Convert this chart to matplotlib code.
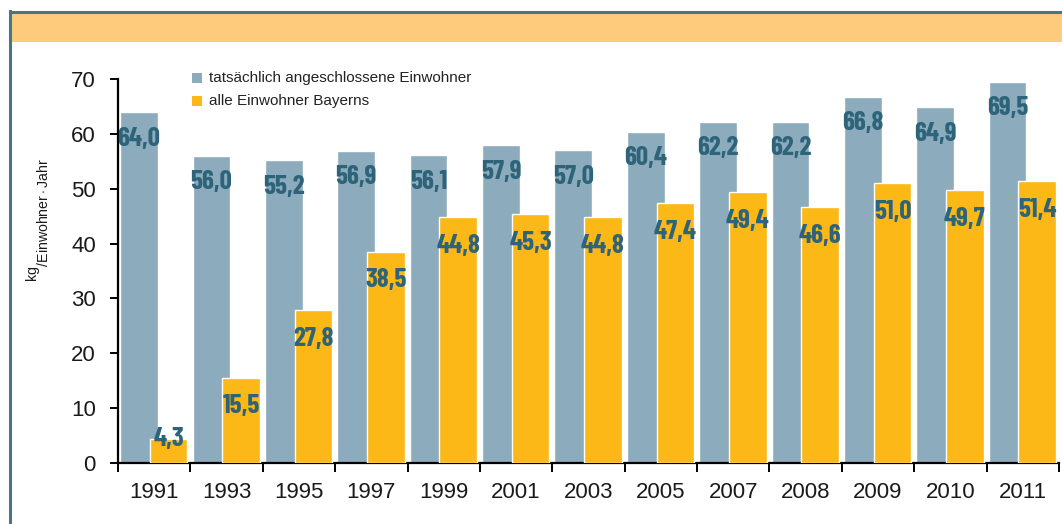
import matplotlib
matplotlib.use("Agg")
import matplotlib.pyplot as plt
from matplotlib.patches import Rectangle
from matplotlib.lines import Line2D
from matplotlib import font_manager as fm

years = ["1991", "1993", "1995", "1997", "1999", "2001", "2003", "2005",
         "2007", "2008", "2009", "2010", "2011"]
connected = [64.0, 56.0, 55.2, 56.9, 56.1, 57.9, 57.0, 60.4, 62.2, 62.2, 66.8, 64.9, 69.5]
all_bavaria = [4.3, 15.5, 27.8, 38.5, 44.8, 45.3, 44.8, 47.4, 49.4, 46.6, 51.0, 49.7, 51.4]
legend_labels = ["tatsächlich angeschlossene Einwohner", "alle Einwohner Bayerns"]
yticks = [0, 10, 20, 30, 40, 50, 60, 70]

GRAY = "#8cabbc"
ORANGE = "#fbb817"
LABEL = "#2e6479"
FRAME = "#4a7586"
BAND = "#fdcb7b"

names = {f.name for f in fm.fontManager.ttflist}
narrow = "DejaVu Sans"
for cand in ["Barlow Condensed", "Roboto Condensed", "Archivo Narrow", "Asap Condensed"]:
    if cand in names:
        narrow = cand
        break
base = "Liberation Sans"
plt.rcParams["font.family"] = [base, "DejaVu Sans"]
plt.rcParams["mathtext.fontset"] = "custom"
plt.rcParams["mathtext.rm"] = base
plt.rcParams["mathtext.it"] = base

W, H = 1062, 524
fig = plt.figure(figsize=(W / 100, H / 100), dpi=100)

# frame + header band
fig.add_artist(Rectangle((10 / W, 1 - 42 / H), 1 - 10 / W, 29 / H, transform=fig.transFigure,
                         facecolor=BAND, edgecolor="none"))
fig.add_artist(Line2D([9.5 / W, 9.5 / W], [0, 1 - 11 / H], transform=fig.transFigure,
                      color=FRAME, lw=2.2))
fig.add_artist(Line2D([9.5 / W, 1], [1 - 11.5 / H, 1 - 11.5 / H], transform=fig.transFigure,
                      color=FRAME, lw=2.2))

ax = fig.add_axes([118 / W, 1 - 463 / H, (1059 - 118) / W, (463 - 79) / H])
n = len(years)
xs = list(range(n))
ax.bar([x + 0.03 for x in xs], connected, width=0.52, align="edge", color=GRAY,
       edgecolor="white", linewidth=1.0, zorder=2)
ax.bar([x + 0.44 for x in xs], all_bavaria, width=0.52, align="edge", color=ORANGE,
       edgecolor="white", linewidth=1.0, zorder=3)

def fmt(v):
    return f"{v:.1f}".replace(".", ",")

lab_kw = dict(ha="center", va="center", fontsize=19.5, fontweight="bold", family=narrow,
              color=LABEL, zorder=4)
for x, v in zip(xs, connected):
    ax.text(x + 0.03 + 0.26, v - 4.85, fmt(v), **lab_kw)
for x, v in zip(xs, all_bavaria):
    y = v if v < 10 else v - 5.2
    ax.text(x + 0.44 + 0.26, y, fmt(v), **lab_kw)

ax.set_xlim(0, n)
ax.set_ylim(0, 70)
ax.set_yticks(yticks)
ax.set_yticklabels([str(t) for t in yticks])
ax.set_xticks(range(n + 1))
ax.set_xticklabels([])
ax.set_xticks([x + 0.5 for x in xs], minor=True)
ax.set_xticklabels(years, minor=True)
ax.tick_params(axis="x", which="major", direction="out", length=6.5, width=1.4, color="black")
ax.tick_params(axis="x", which="minor", length=0, pad=14, labelsize=16, labelcolor="#1a1a1a")
ax.tick_params(axis="y", direction="out", length=6, width=1.4, pad=10, labelsize=16,
               labelcolor="#1a1a1a")
for s in ["top", "right"]:
    ax.spines[s].set_visible(False)
for s in ["left", "bottom"]:
    ax.spines[s].set_linewidth(1.6)
ax.set_facecolor("none")

# y label
fig.text(38 / W, 1 - 220 / H, r"${}^{\mathrm{kg}}{}_{\mathrm{/Einwohner\cdot Jahr}}$",
         rotation=90, ha="center", va="center", fontsize=14.5, color="#1a1a1a")

# legend
for i, (lab, col) in enumerate(zip(legend_labels, [GRAY, ORANGE])):
    yc = 78 + i * 23
    fig.add_artist(Rectangle((192 / W, 1 - (yc + 5) / H), 10 / W, 10 / H,
                             transform=fig.transFigure, facecolor=col, edgecolor="none"))
    fig.text(209 / W, 1 - yc / H, lab, ha="left", va="center", fontsize=11, color="#222222")

fig.savefig("out.png", dpi=100)
